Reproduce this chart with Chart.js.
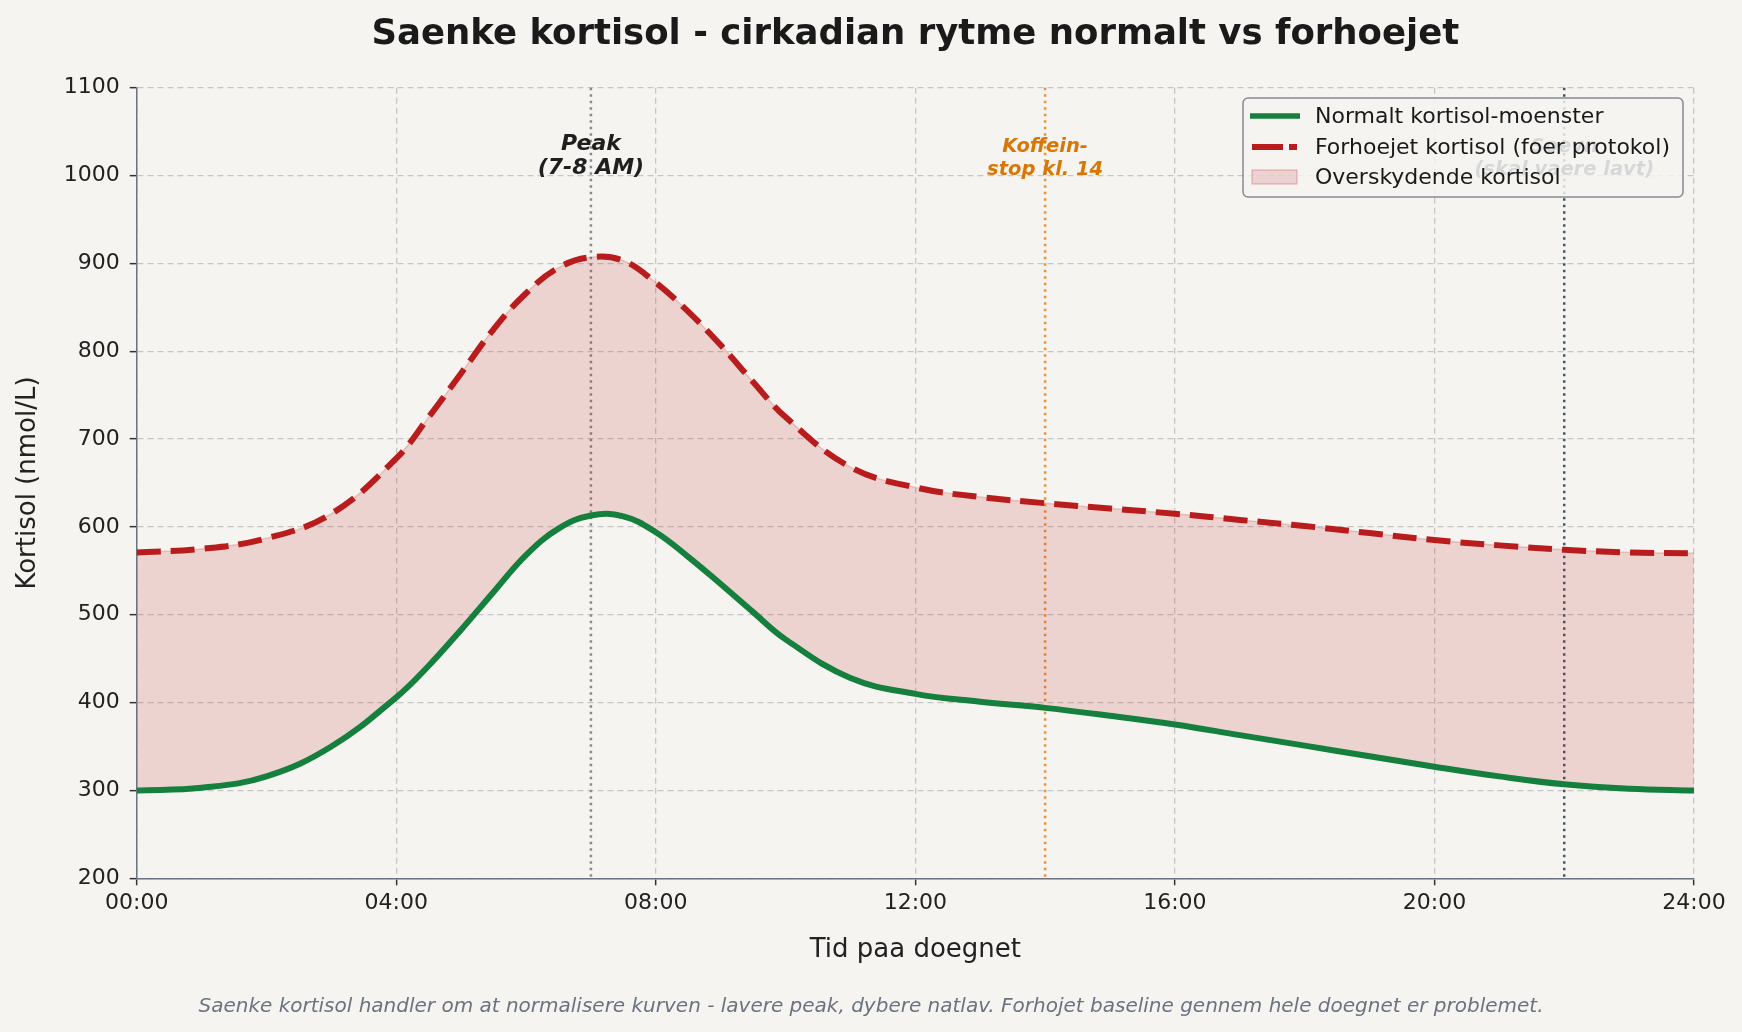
<!DOCTYPE html>
<html>
<head>
<meta charset="utf-8">
<script src="https://cdn.jsdelivr.net/npm/chart.js@4.4.1/dist/chart.umd.min.js"></script>
<style>
  html, body { margin: 0; padding: 0; background: #f5f4f0; }
  #wrap { width: 1742px; height: 1032px; position: relative; }
</style>
</head>
<body>
<div id="wrap"><canvas id="chart-cortisol"></canvas></div>
<script>
// hours of the day (x positions)
const hours = [0, 1, 2, 3, 4, 4.5, 5, 5.5, 6, 6.5, 7, 7.5, 8, 8.5, 9, 9.5, 10, 11, 12, 13, 14, 15, 16, 17, 18, 19, 20, 21, 22, 23, 24];
// normal cortisol pattern (nmol/L)
const normalValues = [300, 303, 316, 350, 406, 442, 483, 526, 568, 598, 613, 612, 594, 566, 535, 503, 472, 428, 410, 401, 394, 385, 375, 363, 351, 339, 327, 316, 307, 302, 300];
// elevated cortisol, before protocol (nmol/L)
const elevatedValues = [571, 575, 587, 615, 678, 725, 775, 825, 866, 895, 907, 903, 878, 845, 807, 765, 725, 668, 645, 634, 627, 621, 615, 608, 601, 593, 585, 579, 574, 571, 570];

const seriesLabels = ['Normalt kortisol-moenster', 'Overskydende kortisol', 'Forhoejet kortisol (foer protokol)'];

// vertical markers: hour and label lines
const markerHours = [7, 14, 22];
const markerLabels = [['Peak', '(7-8 AM)'], ['Koffein-', 'stop kl. 14'], ['Soevn', '(skal vaere lavt)']];

const BG = '#f5f4f0';
const GREEN = '#15803d';
const RED = '#b91c1c';
const FONT = "'DejaVu Sans', sans-serif";

Chart.defaults.font.family = FONT;
Chart.defaults.color = '#222222';

const toPoints = (vals) => hours.map((h, i) => ({ x: h, y: vals[i] }));

// vertical dotted lines + their labels (drawn under the legend)
const markerPlugin = {
    id: 'markers',
    beforeDatasetsDraw(chart) {
        const { ctx, chartArea, scales } = chart;
        const colors = ['#8a8a8a', '#e8923a', '#475569'];
        ctx.save();
        markerHours.forEach((h, i) => {
            const x = scales.x.getPixelForValue(h);
            ctx.strokeStyle = colors[i];
            ctx.lineWidth = 2.5;
            ctx.setLineDash([2.5, 4]);
            ctx.beginPath();
            ctx.moveTo(x, chartArea.top);
            ctx.lineTo(x, chartArea.bottom);
            ctx.stroke();
        });
        ctx.restore();
    },
    afterDatasetsDraw(chart) {
        const { ctx, scales } = chart;
        const textStyles = [
            { color: '#1f1f1f', size: 22, y: 144.5 },
            { color: '#d97706', size: 19.5, y: 146.5 },
            { color: '#475569', size: 19.5, y: 146.5 }
        ];
        ctx.save();
        ctx.textAlign = 'center';
        ctx.textBaseline = 'middle';
        markerHours.forEach((h, i) => {
            const x = scales.x.getPixelForValue(h);
            const st = textStyles[i];
            ctx.fillStyle = st.color;
            ctx.font = `italic bold ${st.size}px ${FONT}`;
            markerLabels[i].forEach((line, j) => {
                ctx.fillText(line, x, st.y + j * 23.5);
            });
        });
        ctx.restore();
    }
};

// legend box in the upper right corner, drawn last
const legendBoxPlugin = {
    id: 'legendBox',
    afterDraw(chart) {
        const { ctx } = chart;
        const x = 1243, y = 98, w = 440, h = 99;
        ctx.save();
        ctx.fillStyle = 'rgba(245,244,240,0.82)';
        ctx.strokeStyle = '#868b94';
        ctx.lineWidth = 1.5;
        ctx.beginPath();
        ctx.roundRect(x, y, w, h, 5);
        ctx.fill();
        ctx.stroke();

        const rows = [116, 147, 177];
        const hx1 = 1250, hx2 = 1300;
        // green solid
        ctx.strokeStyle = GREEN;
        ctx.lineWidth = 5.5;
        ctx.beginPath();
        ctx.moveTo(hx1, rows[0]);
        ctx.lineTo(hx2, rows[0]);
        ctx.stroke();
        // red dashed
        ctx.strokeStyle = RED;
        ctx.lineWidth = 6;
        ctx.setLineDash([31, 6]);
        ctx.beginPath();
        ctx.moveTo(hx1 + 2, rows[1]);
        ctx.lineTo(hx2 - 3, rows[1]);
        ctx.stroke();
        ctx.setLineDash([]);
        // fill patch
        ctx.fillStyle = 'rgba(185,28,28,0.15)';
        ctx.strokeStyle = 'rgba(185,28,28,0.22)';
        ctx.lineWidth = 1.5;
        ctx.fillRect(hx1 + 2, rows[2] - 7, 45, 14);
        ctx.strokeRect(hx1 + 2, rows[2] - 7, 45, 14);

        ctx.fillStyle = '#1a1a1a';
        ctx.font = `22px ${FONT}`;
        ctx.textAlign = 'left';
        ctx.textBaseline = 'middle';
        ctx.fillText(seriesLabels[0], 1315, rows[0] + 1.5);
        ctx.fillText(seriesLabels[2], 1315, rows[1] + 1.5);
        ctx.fillText(seriesLabels[1], 1315, rows[2] + 1.5);
        ctx.restore();
    }
};

// footnote under the x axis
const footerPlugin = {
    id: 'footer',
    afterDraw(chart) {
        const { ctx } = chart;
        ctx.save();
        ctx.fillStyle = '#6b7280';
        ctx.font = `italic 20px ${FONT}`;
        ctx.textAlign = 'center';
        ctx.textBaseline = 'middle';
        ctx.fillText('Saenke kortisol handler om at normalisere kurven - lavere peak, dybere natlav. Forhojet baseline gennem hele doegnet er problemet.', 871, 1007);
        ctx.restore();
    }
};

const bgPlugin = {
    id: 'bg',
    beforeDraw(chart) {
        const { ctx, width, height } = chart;
        ctx.save();
        ctx.fillStyle = BG;
        ctx.fillRect(0, 0, width, height);
        ctx.restore();
    }
};

const gridOpts = { color: '#c6c6c6', lineWidth: 1.3, tickColor: '#333', tickLength: 7, tickWidth: 1.5, tickBorderDash: [] };
const borderOpts = { color: '#6b7280', width: 1.5, dash: [6, 4] };

new Chart(document.getElementById('chart-cortisol'), {
    type: 'line',
    data: {
        datasets: [
            {
                label: seriesLabels[0],
                data: toPoints(normalValues),
                borderColor: GREEN,
                borderWidth: 6,
                pointRadius: 0,
                fill: false,
                tension: 0.4,
                order: 1
            },
            {
                label: seriesLabels[1],
                data: toPoints(elevatedValues),
                borderColor: 'rgba(185,28,28,0.2)',
                borderWidth: 1.5,
                backgroundColor: 'rgba(185,28,28,0.15)',
                pointRadius: 0,
                fill: { target: 0 },
                tension: 0.4,
                order: 3
            },
            {
                label: seriesLabels[2],
                data: toPoints(elevatedValues),
                borderColor: RED,
                borderWidth: 6,
                borderDash: [24, 10],
                borderCapStyle: 'butt',
                pointRadius: 0,
                fill: false,
                tension: 0.4,
                order: 2
            }
        ]
    },
    options: {
        responsive: true,
        maintainAspectRatio: false,
        animation: false,
        layout: { padding: { top: 0, right: 48, bottom: 53.7, left: 0 } },
        plugins: {
            legend: { display: false },
            tooltip: { enabled: false },
            title: {
                display: true,
                fullSize: false,
                text: 'Saenke kortisol - cirkadian rytme normalt vs forhoejet',
                color: '#1a1a1a',
                font: { size: 35.5, weight: 'bold' },
                padding: { top: 13.5, bottom: 31.6 }
            }
        },
        scales: {
            x: {
                type: 'linear',
                min: 0,
                max: 24,
                afterFit: (s) => { s.height = 100; },
                ticks: {
                    stepSize: 4,
                    color: '#222',
                    font: { size: 22 },
                    padding: 5,
                    maxRotation: 0,
                    callback: (v) => String(v).padStart(2, '0') + ':00'
                },
                grid: gridOpts,
                border: borderOpts,
                title: {
                    display: true,
                    text: 'Tid paa doegnet',
                    color: '#222',
                    font: { size: 26 },
                    padding: { top: 0, bottom: 12 }
                }
            },
            y: {
                min: 200,
                max: 1100,
                afterFit: (s) => { s.width = 136.7; },
                ticks: {
                    stepSize: 100,
                    color: '#222',
                    font: { size: 22 },
                    padding: 10,
                    callback: (v) => String(v)
                },
                grid: gridOpts,
                border: borderOpts,
                title: {
                    display: true,
                    text: 'Kortisol (nmol/L)',
                    color: '#222',
                    font: { size: 26 },
                    padding: { top: 12.5, bottom: 0 }
                }
            }
        }
    },
    plugins: [bgPlugin, markerPlugin, legendBoxPlugin, footerPlugin]
});
</script>
</body>
</html>
